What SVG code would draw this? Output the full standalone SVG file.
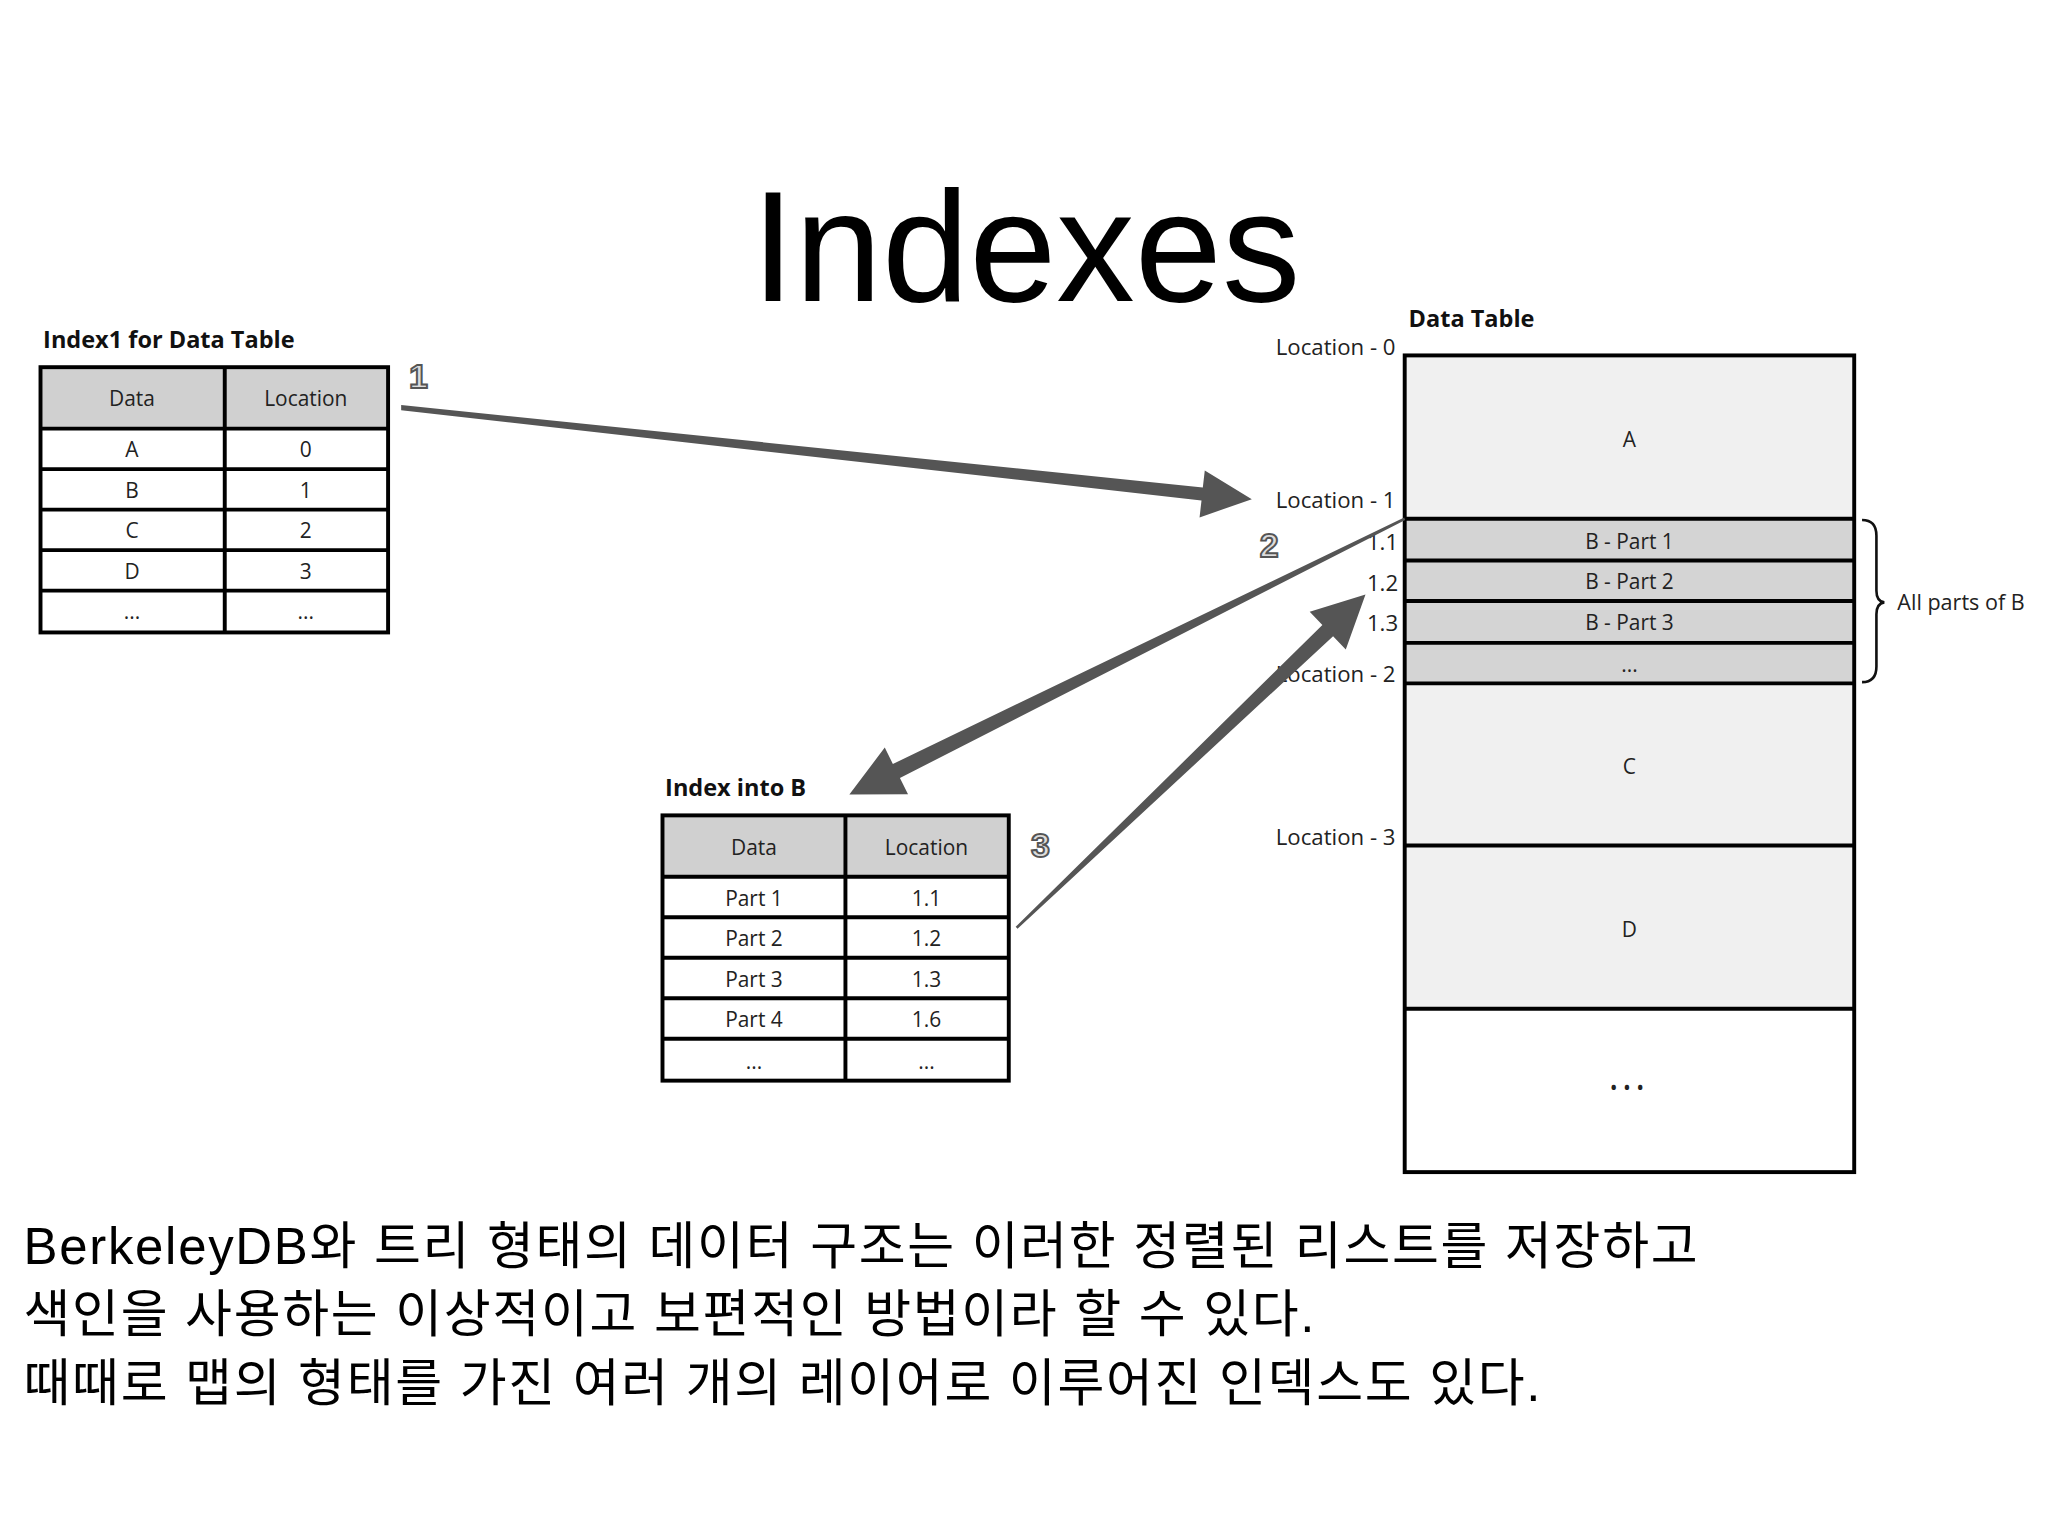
<svg xmlns="http://www.w3.org/2000/svg" width="2048" height="1536" viewBox="0 0 2048 1536">
<style>
.t{font-family:"Open Sans","DejaVu Sans",sans-serif;font-size:16px;fill:#222;text-anchor:middle}
.l{font-family:"Open Sans","DejaVu Sans",sans-serif;font-size:17px;fill:#222;text-anchor:end}
.h{font-family:"Open Sans","DejaVu Sans",sans-serif;font-size:18px;font-weight:bold;fill:#111}
.n{font-family:"Liberation Sans",sans-serif;font-size:26px;font-weight:bold;fill:#ddd;stroke:#555;stroke-width:1.5}
.b{font-family:"Liberation Sans","Noto Sans CJK KR",sans-serif;font-size:39px;letter-spacing:1.3px;fill:#000}
.c{stroke:#000;stroke-width:3}
.hd{fill:#d0d0d0}
.ar{fill:#555}
</style>
<rect width="2048" height="1536" fill="#fff"/>
<g transform="scale(1.3067)">
<text x="785" y="230" font-family="Liberation Sans,sans-serif" font-size="120" text-anchor="middle">Indexes</text>

<g id="index1">
<text class="h" x="33" y="266">Index1 for Data Table</text>
<rect x="31" y="281" width="266" height="47" class="hd"/>
<rect x="31" y="281" width="266" height="203" fill="none" class="c"/>
<g class="c"><line x1="172" y1="281" x2="172" y2="484"/><line x1="31" y1="328" x2="297" y2="328"/><line x1="31" y1="359" x2="297" y2="359"/><line x1="31" y1="390" x2="297" y2="390"/><line x1="31" y1="421" x2="297" y2="421"/><line x1="31" y1="452" x2="297" y2="452"/></g>
<text class="t" x="101" y="311">Data</text><text class="t" x="234" y="311">Location</text>
<text class="t" x="101" y="350">A</text><text class="t" x="234" y="350">0</text>
<text class="t" x="101" y="381">B</text><text class="t" x="234" y="381">1</text>
<text class="t" x="101" y="412">C</text><text class="t" x="234" y="412">2</text>
<text class="t" x="101" y="443">D</text><text class="t" x="234" y="443">3</text>
<text class="t" x="101" y="474">...</text><text class="t" x="234" y="474">...</text>
</g>

<g id="indexB">
<text class="h" x="509" y="609">Index into B</text>
<rect x="507" y="624" width="265" height="47" class="hd"/>
<rect x="507" y="624" width="265" height="203" fill="none" class="c"/>
<g class="c"><line x1="647" y1="624" x2="647" y2="827"/><line x1="507" y1="671" x2="772" y2="671"/><line x1="507" y1="702" x2="772" y2="702"/><line x1="507" y1="733" x2="772" y2="733"/><line x1="507" y1="764" x2="772" y2="764"/><line x1="507" y1="795" x2="772" y2="795"/></g>
<text class="t" x="577" y="654">Data</text><text class="t" x="709" y="654">Location</text>
<text class="t" x="577" y="693">Part 1</text><text class="t" x="709" y="693">1.1</text>
<text class="t" x="577" y="724">Part 2</text><text class="t" x="709" y="724">1.2</text>
<text class="t" x="577" y="755">Part 3</text><text class="t" x="709" y="755">1.3</text>
<text class="t" x="577" y="786">Part 4</text><text class="t" x="709" y="786">1.6</text>
<text class="t" x="577" y="818">...</text><text class="t" x="709" y="818">...</text>
</g>

<g id="datatable">
<text class="h" x="1078" y="250">Data Table</text>
<rect x="1075" y="272" width="344" height="125" fill="#f0f0f0"/>
<rect x="1075" y="397" width="344" height="126" fill="#d4d4d4"/>
<rect x="1075" y="523" width="344" height="249" fill="#f0f0f0"/>
<rect x="1075" y="272" width="344" height="625" fill="none" class="c"/>
<g class="c"><line x1="1075" y1="397" x2="1419" y2="397"/><line x1="1075" y1="429" x2="1419" y2="429"/><line x1="1075" y1="460" x2="1419" y2="460"/><line x1="1075" y1="492" x2="1419" y2="492"/><line x1="1075" y1="523" x2="1419" y2="523"/><line x1="1075" y1="647" x2="1419" y2="647"/><line x1="1075" y1="772" x2="1419" y2="772"/></g>
<text class="t" x="1247" y="342">A</text>
<text class="t" x="1247" y="420">B - Part 1</text>
<text class="t" x="1247" y="451">B - Part 2</text>
<text class="t" x="1247" y="482">B - Part 3</text>
<text class="t" x="1247" y="514">...</text>
<text class="t" x="1247" y="592">C</text>
<text class="t" x="1247" y="717">D</text>
<text class="t" x="1245" y="838" font-size="34">• • •</text>
<text class="l" x="1068" y="272">Location - 0</text>
<text class="l" x="1068" y="389">Location - 1</text>
<text class="l" x="1070" y="421">1.1</text>
<text class="l" x="1070" y="452">1.2</text>
<text class="l" x="1070" y="483">1.3</text>
<text class="l" x="1068" y="522">Location - 2</text>
<text class="l" x="1068" y="647">Location - 3</text>
<path d="M1425,398 Q1436,398 1436,410 L1436,452 Q1436,460 1442,461 Q1436,462 1436,470 L1436,510 Q1436,522 1425,522" fill="none" stroke="#111" stroke-width="2"/>
<text x="1452" y="467" font-family="Open Sans,DejaVu Sans,sans-serif" font-size="16.5" fill="#222">All parts of B</text>
</g>

<g id="connectors">
<polygon class="ar" points="307,310 920.5,373 922,360 958,382 918,396 919.5,383 307,314"/>
<polygon class="ar" points="1075.4,397.9 688.7,595.4 694.9,607.9 650,608 677.1,572.1 683.3,584.6 1074.6,396.1"/>
<polygon class="ar" points="778.7,710.7 1020.2,486.9 1029.9,497.1 1045,455 1002.3,468.1 1012,478.3 777.3,709.3"/>
<text class="n" x="313" y="297">1</text>
<text class="n" x="964" y="426">2</text>
<text class="n" x="789" y="656">3</text>
</g>

<g id="caption">
<text class="b" x="18" y="967">BerkeleyDB와 트리 형태의 데이터 구조는 이러한 정렬된 리스트를 저장하고</text>
<text class="b" x="18" y="1019">색인을 사용하는 이상적이고 보편적인 방법이라 할 수 있다.</text>
<text class="b" x="18" y="1072">때때로 맵의 형태를 가진 여러 개의 레이어로 이루어진 인덱스도 있다.</text>
</g>
</g>
</svg>
